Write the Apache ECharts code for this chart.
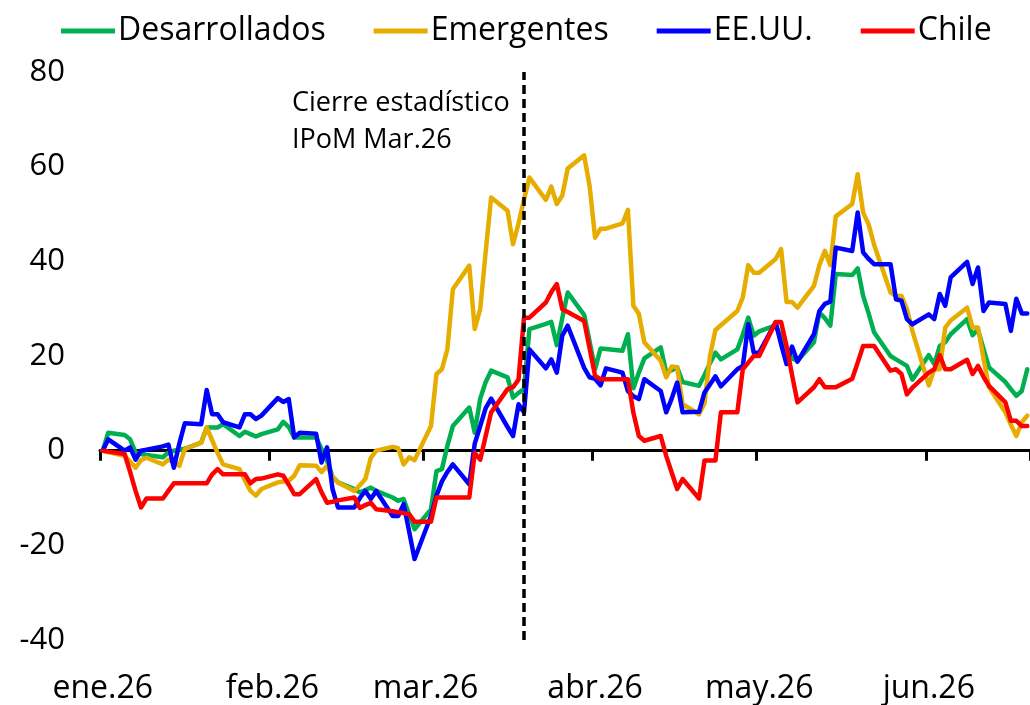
<!DOCTYPE html>
<html>
<head>
<meta charset="utf-8">
<script src="https://cdn.jsdelivr.net/npm/echarts@6/dist/echarts.min.js"></script>
<style>
  html, body { margin: 0; padding: 0; background: #fff; }
  #chart { width: 1030px; height: 705px; }
</style>
</head>
<body>
<div id="chart"></div>
<script>
// business-day values, 1 Jan - 19 Jun 2026 (one value per weekday)
const desarrollados = [
  0, 3.8, 3.3, 2.4, -0.4, -0.7, -0.9, -1.4, -0.4, 0, 0.2, 0.4, 1.7, 4.9, 4.9, 4.9, 5.6, 3.1, 4.0, 3.5, 3.0, 3.5,
  4.5, 6.1, 5.0, 2.8, 2.8, 2.8, 0.3, -2.1, -5.5, -6.7, -8.1, -8.8, -8.3, -7.8, -8.5, -9.9, -10.6, -10.2, -13.5, -16.6,
  -12.4, -4.3, -3.9, 1.0, 5.2, 9.1, 3.8, 11.0, 14.5, 16.9, 15.5, 11.2, 12.2, 13.0, 25.7, 26.8, 27.2, 22.3, 28.0, 33.4, 28.7, 23.0,
  17.2, 21.6, 21.5, 21.1, 24.6, 13.2, 16.5, 19.5, 21.8, 16.5, 17.0, 17.6, 14.5, 13.7, 16.0, 18.5, 20.7, 19.3, 21.4, 24.5, 28.1, 24.3,
  25.2, 26.5, 24.0, 21.5, 19.5, 19.0, 22.9, 29.2, 28.0, 26.4, 37.3, 37.1, 38.5, 32.7, 29.0, 25.0, 20.0, 19.3, 18.6, 17.9, 15.0,
  20.2, 18.3, 22.1, 22.9, 24.6, 27.8, 24.4, 25.5, 21.5, 17.6, 14.5, 13.0, 11.6, 12.6, 17.2
];
const emergentes = [
  0, -0.3, -1.1, -2.3, -3.6, -2.0, -1.5, -2.9, -1.9, -2.5, -3.2, 0.3, 1.7, 4.9, 2.2, -0.5, -2.9, -3.9, -6.3, -8.5, -9.5, -8.1,
  -6.7, -6.5, -6.4, -5.3, -3.1, -3.2, -4.5, -3.2, -5.5, -6.7, -8.5, -7.3, -6.0, -1.5, 0.0, 0.8, 0.5, -2.9, -1.4, -2.0,
  5.2, 16.2, 17.2, 21.4, 34.1, 39.1, 25.7, 29.9, 42.0, 53.5, 50.7, 43.6, 48.0, 53.0, 57.7, 53.0, 55.8, 52.1, 53.9, 59.6, 62.4, 55.9,
  45.0, 46.9, 46.9, 48.0, 50.9, 30.6, 28.9, 22.9, 19.0, 15.5, 17.8, 17.6, 9.8, 7.7, 10.0, 20.0, 25.5, 26.5, 29.5, 32.4, 39.2, 37.6,
  37.6, 40.5, 42.6, 31.4, 31.4, 30.2, 34.8, 39.2, 42.2, 39.2, 49.5, 52.1, 58.4, 50.3, 47.8, 43.5, 33.4, 32.7, 32.7, 29.9, 25.3,
  13.8, 17.2, 17.2, 26.0, 27.5, 30.2, 26.0, 26.0, 19.5, 13.4, 8.1, 5.5, 3.1, 6.0, 7.4
];
const eeuu = [
  0, 2.4, 0, 0.7, -1.9, 0, 0.2, 0.9, 1.3, -3.6, 1.5, 5.8, 5.6, 12.8, 7.7, 7.7, 6.0, 4.9, 7.7, 7.7, 6.7, 7.4,
  11.1, 10.3, 10.9, 2.8, 3.8, 3.6, -2.5, 0.7, -8.1, -12.0, -12.0, -10.0, -8.5, -10.2, -8.5, -13.8, -13.8, -11.3, -17.0, -22.9,
  -13.8, -9.5, -6.5, -4.5, -2.9, -7.1, 1.5, 5.2, 9.0, 11.0, 5.0, 3.1, 9.8, 8.1, 21.4, 17.4, 19.3, 16.5, 24.3, 26.4, 17.5, 15.5,
  15.2, 13.8, 17.4, 16.5, 12.6, 11.5, 10.9, 15.1, 12.6, 8.1, 11.0, 14.4, 8.1, 8.2, 12.3, 14.0, 15.7, 13.6, 17.2, 17.9, 26.7, 20.7,
  20.7, 27.1, 22.5, 18.3, 22.0, 18.8, 24.6, 29.5, 31.0, 31.5, 42.9, 42.2, 50.3, 41.9, 40.5, 39.4, 39.4, 32.0, 31.7, 27.8, 26.7,
  28.8, 27.8, 33.1, 30.6, 36.6, 39.9, 35.2, 38.7, 29.5, 31.3, 31.0, 25.3, 32.1, 29.0, 29.0
];
const chile = [
  0, -0.2, -0.7, -4.5, -8.5, -12.0, -10.1, -10.1, -8.5, -6.9, -6.9, -6.9, -6.9, -6.9, -5.0, -3.9, -5.0, -5.0, -5.0, -6.9, -6.0, -5.9,
  -5.0, -5.3, -7.2, -9.2, -9.2, -6.0, -8.8, -11.0, -10.8, -10.5, -9.9, -12.1, -11.5, -11.0, -12.4, -12.8, -13.0, -13.2, -13.4, -15.0,
  -15.0, -9.9, -9.9, -9.9, -9.9, -9.9, -0.5, -1.9, 3.1, 8.1, 13.0, 13.4, 15.0, 28.1, 28.1, 31.3, 33.5, 35.2, 29.9, 29.3, 27.4, 21.6,
  15.8, 15.1, 15.1, 15.1, 15.1, 8.0, 3.1, 2.1, 3.1, -1.1, -4.6, -8.1, -6.0, -10.1, -2.1, -2.1, -2.1, 8.1, 8.1, 17.2, 18.6, 20.0,
  20.0, 27.2, 27.2, 22.1, 16.0, 10.2, 13.4, 15.1, 13.4, 13.4, 13.4, 15.2, 18.6, 22.1, 22.1, 22.1, 16.9, 17.2, 16.2, 11.9, 13.3,
  16.5, 17.2, 20.2, 17.2, 17.2, 19.2, 16.2, 17.9, 15.6, 13.7, 10.2, 6.3, 6.3, 5.2, 5.2
];
const seriesNames = ['Desarrollados', 'Emergentes', 'EE.UU.', 'Chile'];
const seriesColors = ['#00B050', '#E6AD00', '#0000FF', '#FF0000'];
const monthLabels = ['ene', 'feb', 'mar', 'abr', 'may', 'jun'];
const yearTag = '26';
const cutDate = '2026-03-19';
const cutText = 'Cierre estadístico\nIPoM Mar.26';

const FONT = 'Open Sans';

// calendar days for the axis; weekends carry no value
const days = [];
const isBiz = [];
for (let t = Date.UTC(2026, 0, 1); t <= Date.UTC(2026, 5, 19); t += 864e5) {
  const d = new Date(t);
  days.push(d.toISOString().slice(0, 10));
  isBiz.push(d.getUTCDay() % 6 !== 0);
}

function spread(vals) {
  let k = 0;
  return isBiz.map(b => (b ? vals[k++] : null));
}

const monthStart = (i) => days[i] !== undefined && days[i].slice(8) === '01';

const chart = echarts.init(document.getElementById('chart'));

const data = [desarrollados, emergentes, eeuu, chile];
const series = data.map((vals, i) => ({
  name: seriesNames[i],
  type: 'line',
  data: spread(vals),
  connectNulls: true,
  showSymbol: false,
  symbol: 'none',
  lineStyle: { color: seriesColors[i], width: 4.5, join: 'round', cap: 'round' },
  itemStyle: { color: seriesColors[i] },
  animation: false
}));

// dashed cut-off line
series[3].markLine = {
  silent: true,
  symbol: 'none',
  label: { show: false },
  lineStyle: { color: '#000', type: [9, 5], width: 3.5 },
  data: [{ xAxis: cutDate }],
  animation: false
};

chart.setOption({
  backgroundColor: '#fff',
  animation: false,
  textStyle: { fontFamily: FONT },
  legend: {
    left: 56,
    top: 10,
    itemGap: 48,
    itemWidth: 54,
    itemHeight: 5,
    icon: 'rect',
    data: seriesNames,
    textStyle: { fontFamily: FONT, fontSize: 32, color: '#000', padding: [0, 0, 0, -2] }
  },
  grid: { left: 100, right: 0, top: 72, bottom: 65 },
  xAxis: [
    {
      type: 'category',
      data: days,
      boundaryGap: true,
      position: 'bottom',
      axisLine: { show: false, onZero: false },
      axisTick: { show: false },
      axisLabel: {
        interval: (i) => monthStart(i),
        formatter: (v) => monthLabels[+v.slice(5, 7) - 1] + '.' + yearTag,
        fontFamily: FONT,
        fontSize: 32,
        color: '#000',
        margin: 33
      },
      splitLine: { show: false }
    },
    {
      // zero line with month ticks; its (empty) labels drive the tick interval
      type: 'category',
      data: days,
      boundaryGap: true,
      position: 'bottom',
      axisLine: { show: true, onZero: true, onZeroAxisIndex: 0, lineStyle: { color: '#000', width: 3 } },
      axisTick: { show: true, length: 10, lineStyle: { color: '#000', width: 3 } },
      axisLabel: { show: true, interval: (i) => monthStart(i), formatter: () => '', fontSize: 1 },
      splitLine: { show: false }
    }
  ],
  yAxis: {
    type: 'value',
    min: -40,
    max: 80,
    interval: 20,
    axisLine: { show: false },
    axisTick: { show: false },
    splitLine: { show: false },
    axisLabel: { fontFamily: FONT, fontSize: 31, color: '#000', margin: 35 }
  },
  graphic: [{
    type: 'text',
    left: 292,
    top: 85,
    style: {
      text: cutText,
      font: '27px "Open Sans"',
      lineHeight: 37,
      fill: '#000'
    }
  }],
  series: series
});
</script>
</body>
</html>
